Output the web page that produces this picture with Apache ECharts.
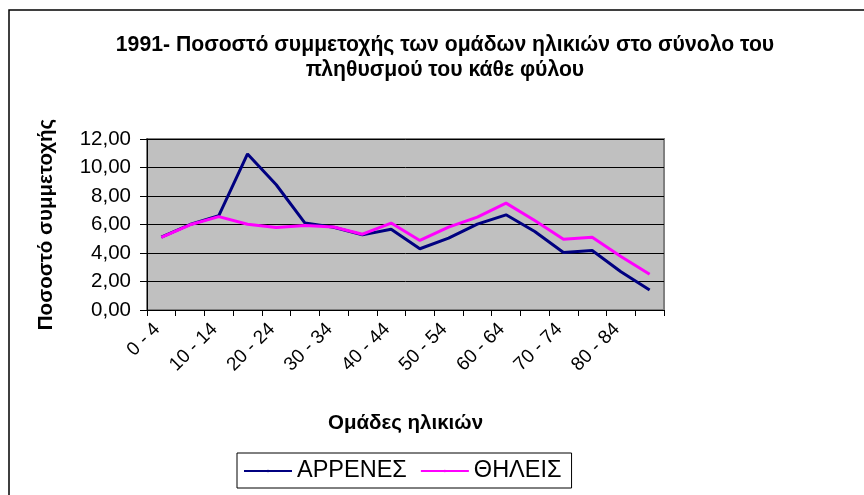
<!DOCTYPE html>
<html>
<head>
<meta charset="utf-8">
<script src="https://cdn.jsdelivr.net/npm/echarts@6/dist/echarts.min.js"></script>
<style>html,body{margin:0;padding:0;background:#fff}#c{width:864px;height:495px}</style>
</head>
<body>
<div id="c"></div>
<script>
const categories = ['0 - 4','5 - 9','10 - 14','15 - 19','20 - 24','25 - 29','30 - 34','35 - 39','40 - 44','45 - 49','50 - 54','55 - 59','60 - 64','65 - 69','70 - 74','75 - 79','80 - 84','85+'];
const males = [5.11, 6.00, 6.62, 10.95, 8.79, 6.10, 5.81, 5.27, 5.67, 4.30, 5.04, 6.03, 6.68, 5.51, 4.03, 4.17, 2.69, 1.41];
const females = [5.10, 5.98, 6.55, 6.02, 5.79, 5.93, 5.83, 5.32, 6.10, 4.88, 5.81, 6.52, 7.50, 6.28, 4.97, 5.11, 3.75, 2.51];
const seriesNames = ['ΑΡΡΕΝΕΣ', 'ΘΗΛΕΙΣ'];
const titleText = '1991- Ποσοστό συμμετοχής των ομάδων ηλικιών στο σύνολο του\nπληθυσμού του κάθε φύλου';
const yName = 'Ποσοστό συμμετοχής';
const xName = 'Ομάδες ηλικιών';

const chart = echarts.init(document.getElementById('c'), null, {renderer: 'canvas'});
const F = 'Liberation Sans, Arial, sans-serif';
chart.setOption({
  animation: false,
  backgroundColor: '#fff',
  graphic: [{
    type: 'rect', shape: {x: 9, y: 10, width: 900, height: 600},
    style: {fill: 'none', stroke: '#000', lineWidth: 1.5}, z: -10
  }],
  title: {
    text: titleText, left: 445, textAlign: 'center', top: 33, padding: 0,
    textStyle: {fontFamily: F, fontSize: 21.2, fontWeight: 'bold', color: '#000', lineHeight: 25}
  },
  legend: {
    data: seriesNames, left: 237, top: 453, orient: 'horizontal',
    borderColor: '#000', borderWidth: 1, padding: [6, 10, 5, 6],
    itemWidth: 48, itemHeight: 3, itemGap: 13,
    textStyle: {fontFamily: F, fontSize: 23.5, color: '#000'}
  },
  grid: {left: 147, right: 200, top: 139, bottom: 185, show: true, backgroundColor: '#c0c0c0', borderColor: '#808080', borderWidth: 2},
  xAxis: {
    type: 'category', data: categories, boundaryGap: true,
    name: xName, nameLocation: 'middle', nameGap: 103,
    nameTextStyle: {fontFamily: F, fontSize: 20.5, fontWeight: 'bold', color: '#000'},
    axisLine: {lineStyle: {color: '#000', width: 1}},
    axisTick: {show: true, interval: 0, length: 6, lineStyle: {color: '#000'}},
    axisLabel: {interval: 1, rotate: 45, fontFamily: F, fontSize: 19, color: '#000', margin: 12, padding: [0, 6, 0, 0]},
    splitLine: {show: false}
  },
  yAxis: {
    type: 'value', min: 0, max: 12, interval: 2,
    name: yName, nameLocation: 'middle', nameGap: 90,
    nameTextStyle: {fontFamily: F, fontSize: 20.5, fontWeight: 'bold', color: '#000'},
    axisLine: {show: true, lineStyle: {color: '#000', width: 1}},
    axisTick: {show: true, length: 7, lineStyle: {color: '#000'}},
    axisLabel: {fontFamily: F, fontSize: 20.5, color: '#000', margin: 16,
      formatter: v => v.toFixed(2).replace('.', ',')},
    splitLine: {show: true, lineStyle: {color: '#000', width: 1}}
  },
  series: [
    {name: seriesNames[0], type: 'line', data: males, symbol: 'none', color: '#000080', lineStyle: {color: '#000080', width: 3}},
    {name: seriesNames[1], type: 'line', data: females, symbol: 'none', color: '#ff00ff', lineStyle: {color: '#ff00ff', width: 3}}
  ]
});
</script>
</body>
</html>
